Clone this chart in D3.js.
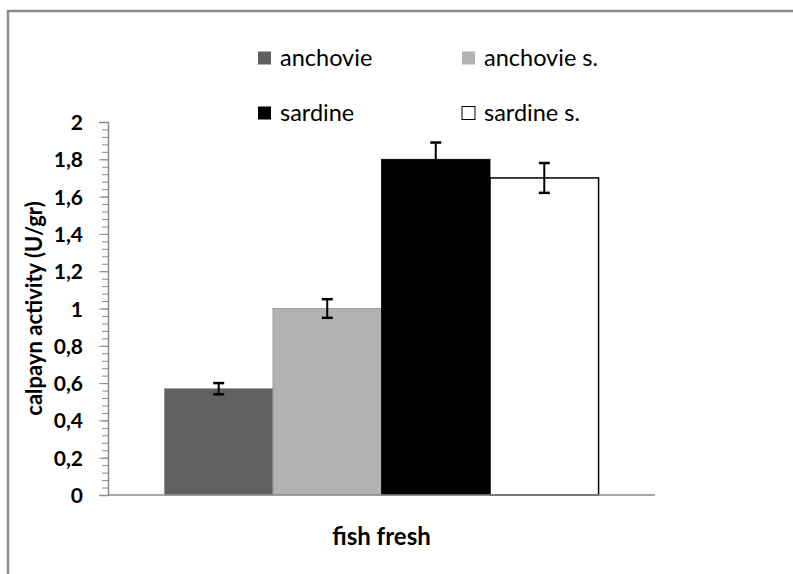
<!DOCTYPE html>
<html>
<head>
<meta charset="utf-8">
<script src="https://cdn.jsdelivr.net/npm/d3@7"></script>
<style>
  body { margin: 0; background: #fff; }
  text { font-family: Lato, "Open Sans", sans-serif; }
</style>
</head>
<body>
<svg width="793" height="574"></svg>
<script>
// chart data
const category = "fish fresh";
const seriesNames = ["anchovie", "anchovie s.", "sardine", "sardine s."];
const values = [0.57, 1.0, 1.80, 1.70];
const errors = [0.03, 0.05, 0.09, 0.08];
const colors = ["#616161", "#b2b2b2", "#000000", "#ffffff"];
const yTicks = [0, 0.2, 0.4, 0.6, 0.8, 1, 1.2, 1.4, 1.6, 1.8, 2];
const yTickLabels = ["0", "0,2", "0,4", "0,6", "0,8", "1", "1,2", "1,4", "1,6", "1,8", "2"];
const yTitle = "calpayn activity (U/gr)";

const svg = d3.select("svg");

let margin = {top: 122, left: 108, right: 138, bottom: 79};
let plotW = 793 - margin.left - margin.right,
    plotH = 574 - margin.top - margin.bottom;

// outer frame
svg.append("rect")
   .attr("x", 8).attr("y", 11)
   .attr("width", 820).attr("height", 620)
   .attr("fill", "none")
   .attr("stroke", "#8c8c8c")
   .attr("stroke-width", 2.5)

const g = svg.append("g")
   .attr("transform", `translate(${margin.left}, ${margin.top})`)

const y = d3.scaleLinear().domain([0, 2]).range([plotH, 0])
const x0 = d3.scaleBand().domain([category]).range([0, plotW])
             .paddingInner(0).paddingOuter(0.13)
const x1 = d3.scaleBand().domain(seriesNames).range([0, x0.bandwidth()])

// minor ticks
const minor = d3.range(0, 2.0001, 0.04)
g.append("g")
 .call(d3.axisLeft(y).tickValues(minor).tickSize(6).tickFormat(""))
 .call(a => a.select(".domain").remove())
 .selectAll("line").attr("stroke", "#8c8c8c")

// major y axis
const yAxis = g.append("g")
 .call(d3.axisLeft(y).tickValues(yTicks).tickSize(9).tickPadding(16)
        .tickFormat((d, i) => yTickLabels[i]))
yAxis.select(".domain").attr("stroke", "#8c8c8c").attr("stroke-width", 1.5)
yAxis.selectAll("line").attr("stroke", "#8c8c8c")
yAxis.selectAll("text")
     .attr("font-size", "21px")
     .attr("font-weight", "bold")
     .attr("fill", "#000")
     .attr("dy", "0.36em")

// bars
const bars = g.append("g").attr("transform", `translate(${x0(category)}, 0)`)
bars.selectAll("rect").data(values).join("rect")
    .attr("x", (d, i) => x1(seriesNames[i]))
    .attr("y", d => y(d))
    .attr("width", x1.bandwidth())
    .attr("height", d => plotH - y(d))
    .attr("fill", (d, i) => colors[i])
    .attr("stroke", (d, i) => i >= 2 ? "#000" : "#8f8f8f")
    .attr("stroke-width", (d, i) => i == 3 ? 1.5 : 0.8)

// error bars
const eb = bars.selectAll("g.err").data(values).join("g").attr("class", "err")
    .attr("transform", (d, i) => `translate(${x1(seriesNames[i]) + x1.bandwidth() / 2}, 0)`)
eb.append("line")
  .attr("y1", (d, i) => y(d + errors[i])).attr("y2", (d, i) => y(d - errors[i]))
  .attr("stroke", "#000").attr("stroke-width", 2)
eb.append("line")
  .attr("x1", -5.5).attr("x2", 5.5)
  .attr("y1", (d, i) => y(d + errors[i])).attr("y2", (d, i) => y(d + errors[i]))
  .attr("stroke", "#000").attr("stroke-width", 2.5)
eb.append("line")
  .attr("x1", -5.5).attr("x2", 5.5)
  .attr("y1", (d, i) => y(d - errors[i])).attr("y2", (d, i) => y(d - errors[i]))
  .attr("stroke", "#000").attr("stroke-width", 2.5)

// x axis (no ticks)
g.append("line")
 .attr("x1", 0).attr("x2", plotW)
 .attr("y1", plotH).attr("y2", plotH)
 .attr("stroke", "#8c8c8c").attr("stroke-width", 1.5)

// x label
g.append("text")
 .attr("x", x0(category) + x0.bandwidth() / 2)
 .attr("y", plotH + 50)
 .attr("text-anchor", "middle")
 .attr("font-size", "24px")
 .attr("font-weight", "bold")
 .text(category)

// y title
g.append("text")
 .attr("transform", `translate(${42 - margin.left}, ${plotH / 2}) rotate(-90)`)
 .attr("text-anchor", "middle")
 .attr("font-size", "22px")
 .attr("font-weight", "bold")
 .text(yTitle)

// legend
const legX = [258, 462], legY = [58, 113];
const leg = svg.append("g")
seriesNames.forEach((s, i) => {
    const lx = legX[i % 2], ly = legY[Math.floor(i / 2)];
    leg.append("rect")
       .attr("x", lx).attr("y", ly - 6.5)
       .attr("width", 13).attr("height", 13)
       .attr("fill", colors[i])
       .attr("stroke", i == 3 ? "#000" : "none")
       .attr("stroke-width", 1)
    leg.append("text")
       .attr("x", lx + 22).attr("y", ly)
       .attr("dy", "0.35em")
       .attr("font-size", "23.5px")
       .text(s)
})
</script>
</body>
</html>
